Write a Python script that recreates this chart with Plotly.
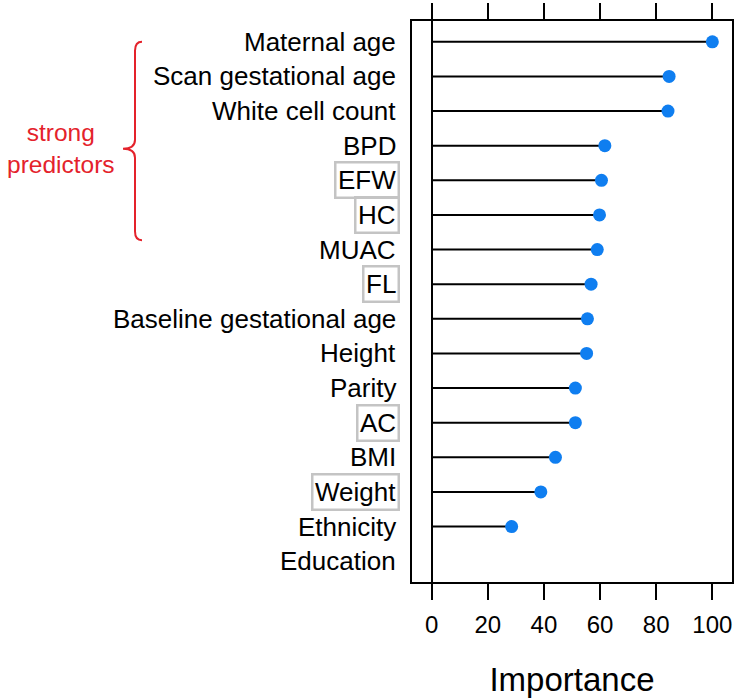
import plotly.graph_objects as go

predictors = ["Maternal age", "Scan gestational age", "White cell count", "BPD", "EFW", "HC",
              "MUAC", "FL", "Baseline gestational age", "Height", "Parity", "AC", "BMI",
              "Weight", "Ethnicity", "Education"]
importance = [100, 84.6, 84.2, 61.7, 60.5, 59.8, 59.0, 56.8, 55.5, 55.2, 51.2, 51.2, 44.1,
              38.9, 28.5, None]
boxed = ["EFW", "HC", "FL", "AC", "Weight"]
x_ticks = [0, 20, 40, 60, 80, 100]
group_label = "strong<br>predictors"
group_rows = ("Maternal age", "HC")

FONT = "Liberation Sans, Arial, sans-serif"
RED = "#e4222b"
BLUE = "#0f7ef0"

rows = list(range(1, len(predictors) + 1))
Y_RANGE = [len(predictors) + 0.6, 0.4]
X_RANGE = [-7, 107]

W, H = 737, 700
ML, MR, MT, MB = 412, 5, 21, 118

lx, ly = [], []
for r, v in zip(rows, importance):
    if v is None:
        continue
    lx += [0, v, None]
    ly += [r, r, None]

fig = go.Figure()
fig.add_trace(go.Scatter(x=lx, y=ly, mode="lines", line=dict(color="black", width=2),
                         hoverinfo="skip", showlegend=False))
fig.add_trace(go.Scatter(x=[v for v in importance if v is not None],
                         y=[r for r, v in zip(rows, importance) if v is not None],
                         mode="markers", marker=dict(color=BLUE, size=13),
                         showlegend=False))

for r, name in zip(rows, predictors):
    is_boxed = name in boxed
    fig.add_annotation(x=0, xref="paper", y=r, yref="y", text=name, showarrow=False,
                       xanchor="right", yanchor="middle", xshift=-12,
                       font=dict(family=FONT, size=26, color="black"),
                       bordercolor="#c4c4c4" if is_boxed else "rgba(0,0,0,0)",
                       borderwidth=2.5, borderpad=1.5,
                       bgcolor="rgba(0,0,0,0)")

def ypaper(row):
    return (Y_RANGE[0] - row) / (Y_RANGE[0] - Y_RANGE[1])

PLOT_W = W - ML - MR
def xpaper(px):
    return (px - ML) / PLOT_W

r0 = predictors.index(group_rows[0]) + 1
r1 = predictors.index(group_rows[1]) + 1
y_top = ypaper(r0)
y_bot = ypaper(r1 + 0.73)
y_mid = ypaper(r0 + 3.09)
x_end, x_stem, x_tip = xpaper(142), xpaper(135), xpaper(123)
rr = 0.016
path = (f"M {x_end},{y_top} Q {x_stem},{y_top} {x_stem},{y_top - rr} "
        f"L {x_stem},{y_mid + rr} Q {x_stem},{y_mid} {x_tip},{y_mid} "
        f"Q {x_stem},{y_mid} {x_stem},{y_mid - rr} "
        f"L {x_stem},{y_bot + rr} Q {x_stem},{y_bot} {x_end},{y_bot}")
fig.add_shape(type="path", path=path, xref="paper", yref="paper",
              line=dict(color=RED, width=2))
fig.add_annotation(x=xpaper(61), xref="paper", y=y_mid, yref="paper",
                   text=group_label, showarrow=False, xanchor="center", yanchor="middle",
                   font=dict(family=FONT, size=24.5, color=RED))

fig.update_layout(
    width=W, height=H,
    margin=dict(l=ML, r=MR, t=MT, b=MB, autoexpand=False),
    paper_bgcolor="white", plot_bgcolor="white",
    font=dict(family=FONT, size=24, color="black"),
    xaxis=dict(range=X_RANGE, tickvals=x_ticks, showgrid=False, automargin=False,
               zeroline=True, zerolinecolor="black", zerolinewidth=2,
               showline=True, linecolor="black", linewidth=2, mirror="ticks",
               ticks="outside", ticklen=16, tickwidth=2, tickcolor="black",
               tickfont=dict(family=FONT, size=24), ticklabelstandoff=4,
               title=dict(text="Importance", font=dict(family=FONT, size=33), standoff=31)),
    yaxis=dict(range=Y_RANGE, showgrid=False, zeroline=False, showticklabels=False,
               automargin=False,
               showline=True, linecolor="black", linewidth=2, mirror=True, ticks=""),
)

fig.write_html("out.html", config={"displayModeBar": False},
               post_script="document.body.style.margin='0';document.body.style.overflow='hidden';")
